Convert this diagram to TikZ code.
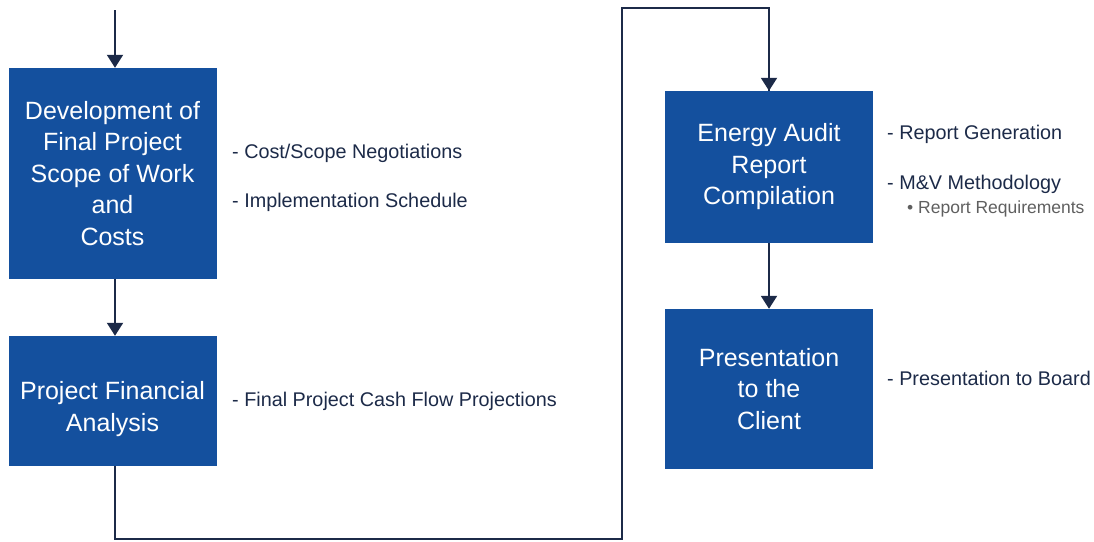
\documentclass[tikz,border=0pt]{standalone}
\usepackage{fontspec}
\setmainfont{Liberation Sans}
\usetikzlibrary{arrows.meta}
\definecolor{boxblue}{RGB}{20,80,158}
\definecolor{navy}{RGB}{28,42,72}
\definecolor{sidegray}{RGB}{95,95,95}
\tikzset{
  stepbox/.style={fill=boxblue, draw=none, text=white, align=center, inner sep=0pt,
    minimum width=208pt, font=\fontsize{25}{31.5}\selectfont},
  boxtext/.style={text=white, align=center, inner sep=0pt, font=\fontsize{25}{31.5}\selectfont},
  conn/.style={draw=navy, line width=2pt},
  arr/.style={conn, -{Triangle[width=16pt,length=13pt]}},
  side/.style={anchor=west, text=navy, inner sep=0pt, font=\fontsize{19.8}{22}\selectfont},
  sub/.style={anchor=west, text=sidegray, inner sep=0pt, font=\fontsize{17.5}{19}\selectfont}
}
\begin{document}
\begin{tikzpicture}[x=1pt,y=-1pt]
\useasboundingbox (0,0) rectangle (1094,541);
\node[stepbox, minimum height=211pt] (b1) at (112.5,173.5) {Development of\\Final Project\\Scope of Work\\and\\Costs};
\node[stepbox, minimum height=130pt] (b2) at (112.5,401) {};
\node[boxtext] (b2t) at (112.5,409) {Project Financial\\Analysis};
\node[stepbox, minimum height=152pt] (b3) at (769,167) {Energy Audit\\Report\\Compilation};
\node[stepbox, minimum height=160pt] (b4) at (769,389) {Presentation\\to the\\Client};

\coordinate (start) at (115,10);
\coordinate (c1) at (115,539);
\coordinate (c2) at (622,539);
\coordinate (c3) at (622,8);
\coordinate (c4) at (769,8);

\draw[arr] (start) -- (start |- b1.north);
\draw[arr] (b1.south -| start) -- (b2.north -| start);
\draw[conn, line join=miter] (b2.south -| c1) -- (c1) -- (c2) -- (c3) -- (c4) -- (b3.north);
\draw[arr] (c4) -- (b3.north);
\draw[arr] (b3.south) -- (b4.north);

\node[side] (t1) at (232,153) {- Cost/Scope Negotiations};
\node[side] (t2) at (232,202) {- Implementation Schedule};
\node[side] (t3) at (232,401) {- Final Project Cash Flow Projections};
\node[side] (t4) at (887,134) {- Report Generation};
\node[side] (t5) at (887,184) {- M\&V Methodology};
\node[sub] (t6) at (907,209) {\textbullet\ Report Requirements};
\node[side] (t7) at (887,378) {- Presentation to Board};
\end{tikzpicture}
\end{document}
